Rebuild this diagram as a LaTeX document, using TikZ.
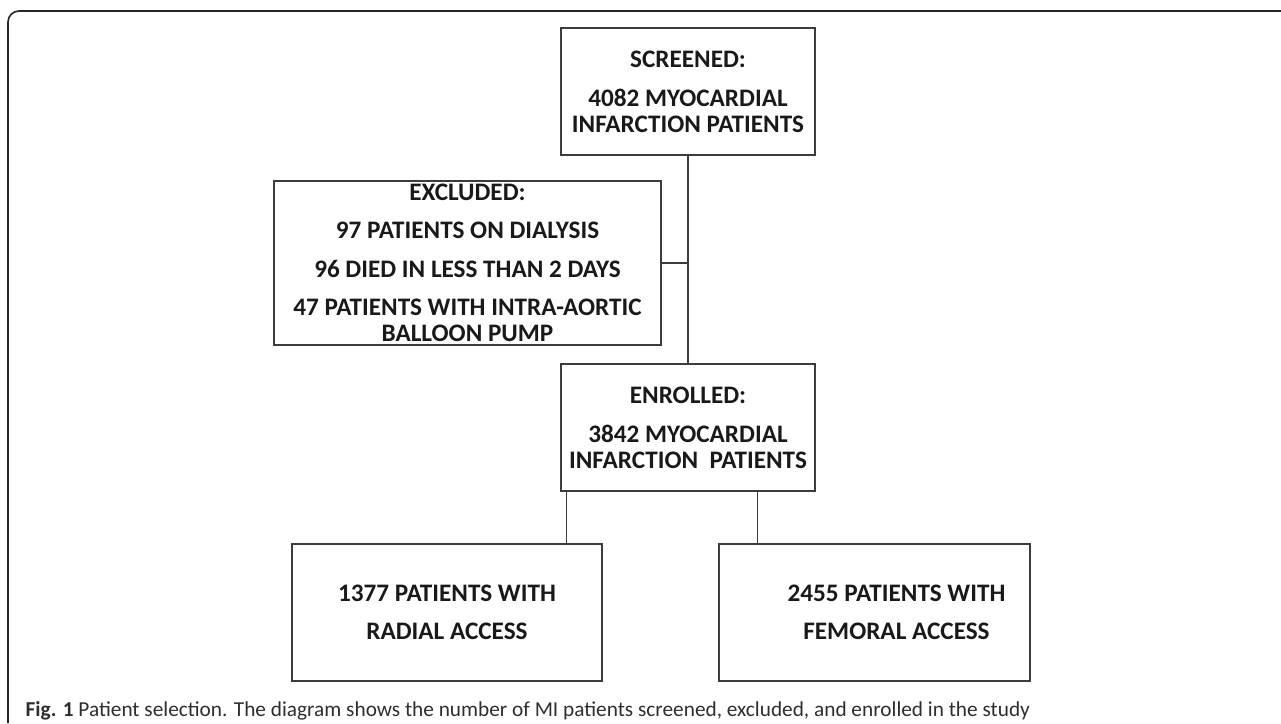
\documentclass[tikz,border=0pt]{standalone}
\usepackage{fontspec}
\setmainfont{Carlito}
\usetikzlibrary{positioning}
\definecolor{boxline}{HTML}{3C3C3C}
\definecolor{captext}{HTML}{2E2E2E}
\tikzset{
  box/.style={draw=boxline,rectangle,inner sep=0pt,align=center,
    font=\fontsize{25.2}{26}\selectfont\bfseries,text=black!90},
  link/.style={draw=boxline,line width=1.3pt}
}
\begin{document}
\begin{tikzpicture}[x=1pt,y=1pt,line width=1.3pt]
  \useasboundingbox (0,0) rectangle (1281,-723);
  % frame
  \draw[line width=1.6pt,rounded corners=11pt,black!85] (8,-723)--(8,-11)--(1281,-11);
  % boxes
  \node[box,minimum width=254pt,minimum height=127pt] (screened) at (688,-91.5)
    {SCREENED:\\[13pt]4082 MYOCARDIAL\\INFARCTION PATIENTS};
  \node[box,minimum width=387pt,minimum height=164pt] (excluded) at (467.5,-263)
    {EXCLUDED:\\[12.5pt]97 PATIENTS ON DIALYSIS\\[12.5pt]96 DIED IN LESS THAN 2 DAYS\\[12.5pt]47 PATIENTS WITH INTRA-AORTIC\\BALLOON PUMP};
  \node[box,minimum width=254pt,minimum height=127pt] (enrolled) at (688,-427.5)
    {ENROLLED:\\[13pt]3842 MYOCARDIAL\\INFARCTION\ \ PATIENTS};
  \node[box,minimum width=310pt,minimum height=137pt] (radial) at (447,-612.5)
    {1377 PATIENTS WITH\\[12pt]RADIAL ACCESS};
  \node[box,minimum width=311pt,minimum height=137pt] (femoral) at (874.5,-612.5)
    {\hspace*{44pt}2455 PATIENTS WITH\\[12pt]\hspace*{44pt}FEMORAL ACCESS};
  % connectors
  \draw[link] (screened.south) -- (enrolled.north);
  \draw[link] (excluded.east) -- (excluded.east -| screened.south);
  \draw[link] ([xshift=6pt]enrolled.south west) -- ([xshift=6pt]enrolled.south west |- radial.north);
  \draw[link] ([xshift=39pt]femoral.north west) -- ([xshift=39pt]femoral.north west |- enrolled.south);
  % caption
  \node[anchor=base west,inner sep=0pt,text=captext,font=\fontsize{21.3}{24}\selectfont] (caption) at (25,-716)
    {\textbf{Fig. 1} Patient selection. The diagram shows the number of MI patients screened, excluded, and enrolled in the study};
\end{tikzpicture}
\end{document}
